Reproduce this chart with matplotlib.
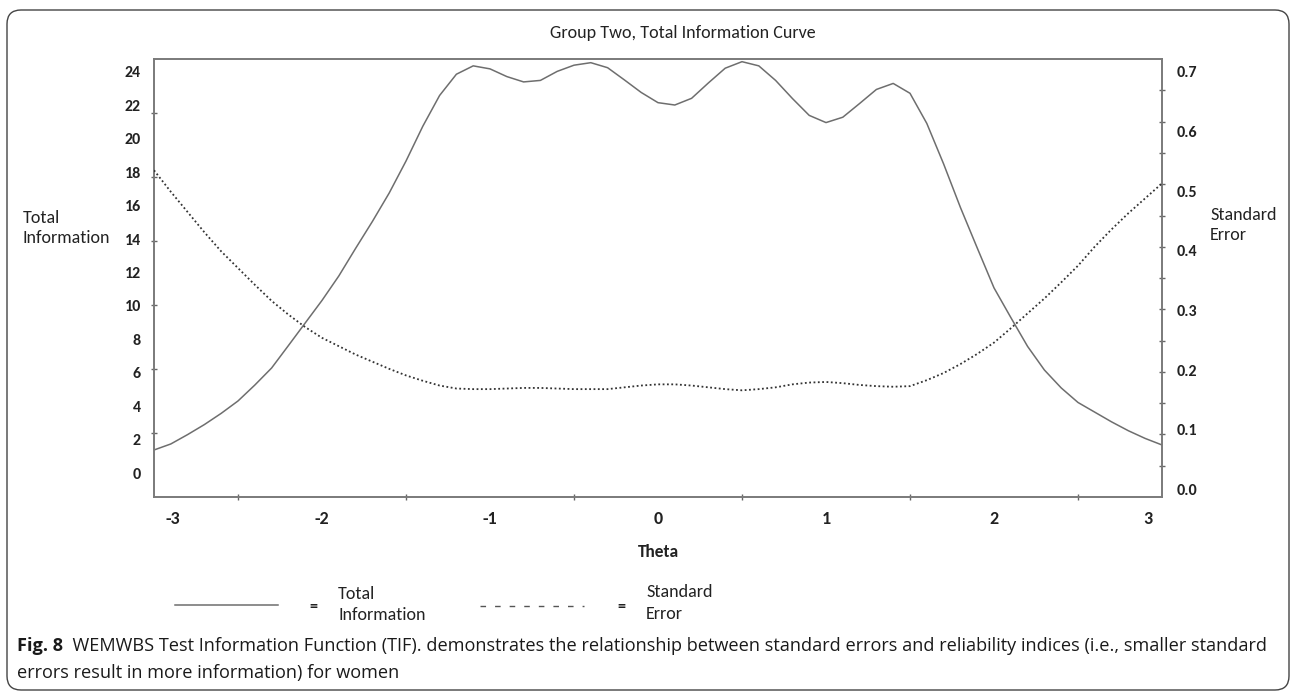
import numpy as np
import matplotlib
matplotlib.use("Agg")
import matplotlib.pyplot as plt
from matplotlib import font_manager
from matplotlib.patches import FancyBboxPatch
from matplotlib.lines import Line2D
import matplotlib.transforms as mtransforms

# ---------------- data ----------------
theta = np.round(np.arange(-30, 31) / 10, 1)
total_information = [1.39, 1.75, 2.31, 2.91, 3.58, 4.32, 5.27, 6.29, 7.63, 8.98,
                     10.33, 11.79, 13.44, 15.05, 16.75, 18.66, 20.74, 22.58, 23.85, 24.35,
                     24.17, 23.71, 23.39, 23.48, 24.02, 24.39, 24.54, 24.24, 23.51, 22.76,
                     22.15, 22.01, 22.41, 23.33, 24.21, 24.60, 24.35, 23.48, 22.40, 21.39,
                     20.96, 21.28, 22.10, 22.94, 23.30, 22.71, 20.91, 18.49, 15.89, 13.47,
                     11.08, 9.31, 7.58, 6.17, 5.10, 4.23, 3.65, 3.07, 2.54, 2.08, 1.69]
standard_error = [0.535, 0.499, 0.465, 0.431, 0.399, 0.371, 0.343, 0.316, 0.293, 0.272,
                  0.254, 0.240, 0.226, 0.214, 0.202, 0.191, 0.182, 0.174, 0.169, 0.168,
                  0.168, 0.169, 0.170, 0.170, 0.169, 0.168, 0.168, 0.168, 0.171, 0.174,
                  0.176, 0.176, 0.174, 0.171, 0.168, 0.166, 0.168, 0.171, 0.176, 0.179,
                  0.180, 0.178, 0.175, 0.173, 0.172, 0.173, 0.183, 0.195, 0.210, 0.227,
                  0.246, 0.270, 0.295, 0.320, 0.347, 0.375, 0.407, 0.436, 0.463, 0.488, 0.513]
x_ticks = [-3, -2, -1, 0, 1, 2, 3]
info_ticks = [0, 2, 4, 6, 8, 10, 12, 14, 16, 18, 20, 22, 24]
se_ticks = [0.0, 0.1, 0.2, 0.3, 0.4, 0.5, 0.6, 0.7]

title = "Group Two, Total Information Curve"
caption_bold = "Fig. 8"
caption_1 = "  WEMWBS Test Information Function (TIF). demonstrates the relationship between standard errors and reliability indices (i.e., smaller standard"
caption_2 = "errors result in more information) for women"

# ---------------- fonts ----------------
avail = {f.name for f in font_manager.fontManager.ttflist}
def pick(*names):
    for n in names:
        if n in avail:
            return n
    return "DejaVu Sans"
CHART_FONT = pick("Carlito", "Lato", "Open Sans")
CAP_FONT = pick("Liberation Sans Narrow", "Open Sans", "Lato")
plt.rcParams["font.family"] = [CHART_FONT, "DejaVu Sans"]

W, H = 1292, 691
fig = plt.figure(figsize=(W / 100, H / 100), dpi=100)
fig.patch.set_facecolor("white")

def fx(px):
    return px / W
def fy(py):
    return 1 - py / H

L, R, T, B = 154, 1162, 59, 497
ax = fig.add_axes([fx(L), fy(B), fx(R) - fx(L), fy(T) - fy(B)])
ax2 = ax.twinx()

INFO_LIM = (-1.42, 24.76)
SE_LIM = (-0.0129, 0.7216)

ax.plot(theta, total_information, color="#6e6e6e", lw=1.1, zorder=3)
ax2.plot(theta, standard_error, color="#333333", lw=1.3, linestyle=(0, (1.0, 1.4)), zorder=3)

ax.set_xlim(-3, 3)
ax.set_ylim(*INFO_LIM)
ax2.set_ylim(*SE_LIM)

spine_col = "#7a7a7a"
for a in (ax, ax2):
    for s in a.spines.values():
        s.set_color(spine_col)
        s.set_linewidth(1.2)

# x ticks
ax.set_xticks(x_ticks)
ax.set_xticklabels([str(v) for v in x_ticks], fontsize=13, fontweight="bold", color="#222222")
ax.set_xticks(np.arange(-3, 3.01, 0.5), minor=True)
ax.tick_params(axis="x", which="major", length=0, pad=10)
ax.tick_params(axis="x", which="minor", length=4, width=1, direction="inout", color="#666666")
lbls = ax.get_xticklabels()
lbls[0].set_transform(lbls[0].get_transform() + mtransforms.ScaledTranslation(19 / 100, 0, fig.dpi_scale_trans))
lbls[-1].set_transform(lbls[-1].get_transform() + mtransforms.ScaledTranslation(-14 / 100, 0, fig.dpi_scale_trans))

# left y ticks
ax.set_yticks(info_ticks)
ax.set_yticklabels([str(v) for v in info_ticks], fontsize=11.5, fontweight="bold", color="#222222")
ax.set_yticks([INFO_LIM[0] + k * 64 / 16.73 for k in range(1, 7)], minor=True)
ax.tick_params(axis="y", which="major", length=0, pad=9.4)
ax.tick_params(axis="y", which="minor", length=4, width=1, direction="inout", color="#666666")

# right y ticks
ax2.set_yticks(se_ticks)
ax2.set_yticklabels([f"{v:.1f}" for v in se_ticks], fontsize=11.5, fontweight="bold", color="#222222")
ax2.set_yticks([SE_LIM[0] + k * 31.29 / 596.6 for k in range(1, 14)], minor=True)
ax2.tick_params(axis="y", which="major", length=0, pad=10.8)
ax2.tick_params(axis="y", which="minor", length=4, width=1, direction="inout", color="#666666")

# titles and axis labels
fig.text(fx(683), fy(33), title, ha="center", va="center", fontsize=13, color="#222222")
fig.text(fx(658), fy(552), "Theta", ha="center", va="center", fontsize=12.5, fontweight="bold", color="#222222")
fig.text(fx(23), fy(228), "Total\nInformation", ha="left", va="center", fontsize=13, color="#222222", linespacing=1.25)
fig.text(fx(1210), fy(225), "Standard\nError", ha="left", va="center", fontsize=13, color="#222222", linespacing=1.25)

# legend
fig.add_artist(Line2D([fx(175), fx(278)], [fy(605), fy(605)], color="#6e6e6e", lw=1.1))
fig.text(fx(313), fy(607), "=", ha="center", va="center", fontsize=11.5, fontweight="bold", color="#222222")
fig.text(fx(338), fy(604.5), "Total\nInformation", ha="left", va="center", fontsize=13, color="#222222", linespacing=1.4)
fig.add_artist(Line2D([fx(480), fx(584)], [fy(606), fy(606)], color="#555555", lw=1.0, linestyle=(0, (4, 6.5))))
fig.text(fx(621), fy(607), "=", ha="center", va="center", fontsize=11.5, fontweight="bold", color="#222222")
fig.text(fx(646), fy(603), "Standard\nError", ha="left", va="center", fontsize=13, color="#222222", linespacing=1.4)

# caption
t_bold = fig.text(fx(17), fy(651), caption_bold, ha="left", va="baseline", fontsize=13.1,
                  fontweight="bold", family=[CAP_FONT, "DejaVu Sans"], color="#1a1a1a")
fig.canvas.draw()
ann = fig.text(0, 0, caption_1, ha="left", va="baseline", fontsize=13.1,
               family=[CAP_FONT, "DejaVu Sans"], color="#1a1a1a")
bb = t_bold.get_window_extent()
ann.set_position((bb.x1 / W, fy(651)))
fig.text(fx(17), fy(678), caption_2, ha="left", va="baseline", fontsize=13.1,
         family=[CAP_FONT, "DejaVu Sans"], color="#1a1a1a")

# rounded frame
frame = FancyBboxPatch((7, H - 690), 1289 - 7, 690 - 10, boxstyle="round,pad=0,rounding_size=14",
                       transform=mtransforms.IdentityTransform(), fill=False,
                       edgecolor="#444444", lw=1.0)
fig.add_artist(frame)

fig.savefig("out.png", dpi=100, facecolor="white")
